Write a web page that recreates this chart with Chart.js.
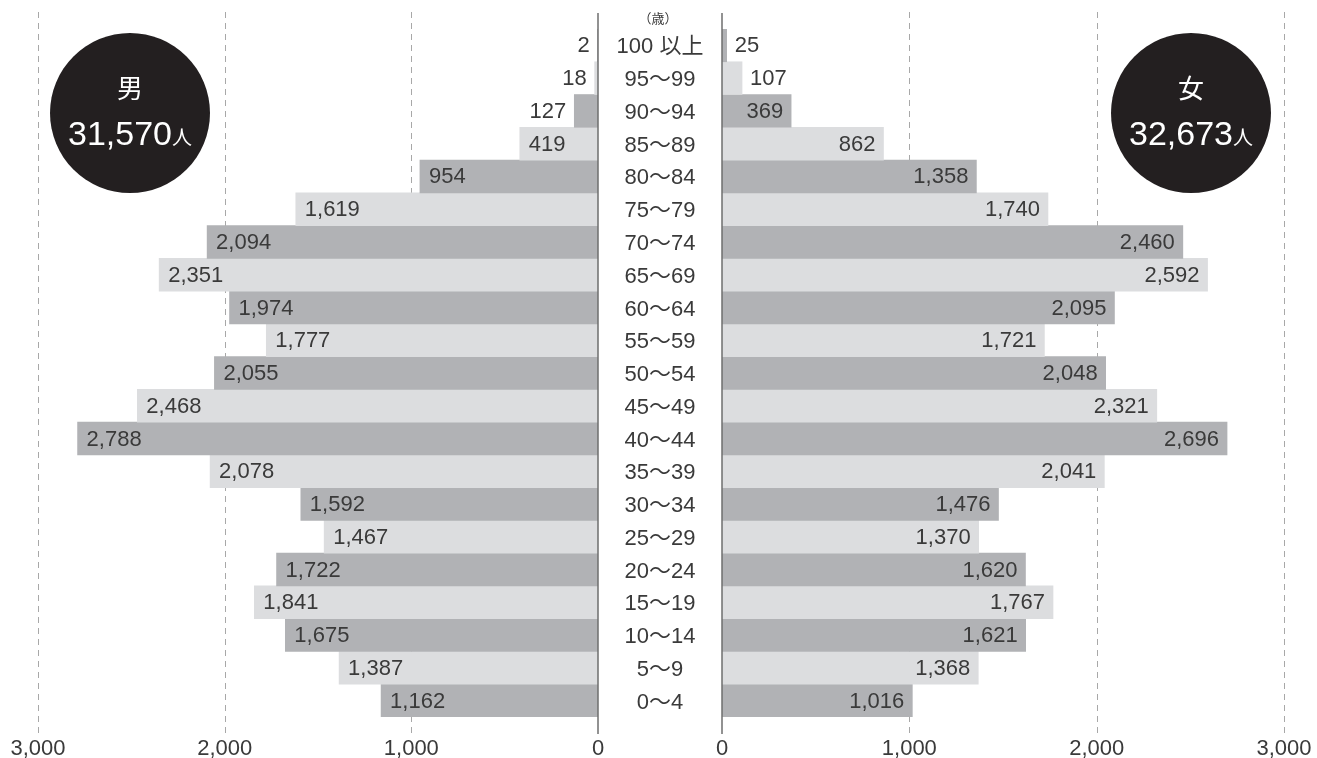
<!DOCTYPE html>
<html>
<head>
<meta charset="utf-8">
<script src="https://cdn.jsdelivr.net/npm/chart.js@4/dist/chart.umd.min.js"></script>
<style>
  body { margin: 0; background: #fff; }
  #wrap { position: relative; width: 1317px; height: 758px; overflow: hidden; }
  canvas { position: absolute; top: 0; }
  #male-chart { left: 0; }
  #female-chart { left: 598px; }
  .badge {
    position: absolute; top: 33px; width: 160px; height: 160px; border-radius: 50%;
    background: #231f20; color: #fff; text-align: center;
    font-family: "Liberation Sans", "Noto Sans CJK JP", sans-serif;
  }
  .badge .sex { margin-top: 39px; font-size: 26px; line-height: 30px; font-family: "Noto Sans CJK JP", sans-serif; }
  .badge .total { margin-top: 12px; font-size: 34px; line-height: 38px; white-space: nowrap; }
  .badge .total small { font-size: 20px; font-family: "Noto Sans CJK JP", sans-serif; }
  #badge-m { left: 50px; }
  #badge-f { left: 1111px; }
</style>
</head>
<body>
<div id="wrap">
  <canvas id="male-chart" width="722" height="758"></canvas>
  <canvas id="female-chart" width="780" height="758"></canvas>
  <div class="badge" id="badge-m"><div class="sex">男</div><div class="total"><span id="total-m"></span><small>人</small></div></div>
  <div class="badge" id="badge-f"><div class="sex">女</div><div class="total"><span id="total-f"></span><small>人</small></div></div>
</div>
<script>
// 人口ピラミッド (男・女)

const ageGroups = ['0〜4', '5〜9', '10〜14', '15〜19', '20〜24', '25〜29', '30〜34', '35〜39', '40〜44', '45〜49',
  '50〜54', '55〜59', '60〜64', '65〜69', '70〜74', '75〜79', '80〜84', '85〜89', '90〜94', '95〜99', '100 以上'];
const male = [1162, 1387, 1675, 1841, 1722, 1467, 1592, 2078, 2788, 2468,
  2055, 1777, 1974, 2351, 2094, 1619, 954, 419, 127, 18, 2];
const female = [1016, 1368, 1621, 1767, 1620, 1370, 1476, 2041, 2696, 2321,
  2048, 1721, 2095, 2592, 2460, 1740, 1358, 862, 369, 107, 25];
const xTicks = [0, 1000, 2000, 3000];

const DARK = '#b1b2b5';
const LIGHT = '#dcdddf';
const TEXT = '#3a3a3a';
const FONT = '"Liberation Sans", "Noto Sans CJK JP", sans-serif';

const fmt = v => v.toLocaleString('en-US');

document.getElementById('total-m').textContent = fmt(male.reduce((a, b) => a + b, 0));
document.getElementById('total-f').textContent = fmt(female.reduce((a, b) => a + b, 0));

// dashed grid + solid zero line
const gridPlugin = {
  id: 'gridLines',
  beforeDatasetsDraw(chart) {
    const ctx = chart.ctx;
    const x = chart.scales.x;
    ctx.save();
    ctx.strokeStyle = '#a8a8a8';
    ctx.lineWidth = 1;
    ctx.setLineDash([6, 5]);
    xTicks.slice(1).forEach(t => {
      const px = Math.round(x.getPixelForValue(t)) + 0.5;
      ctx.beginPath();
      ctx.moveTo(px, 12);
      ctx.lineTo(px, 736);
      ctx.stroke();
    });
    ctx.restore();
  },
  afterDatasetsDraw(chart) {
    const ctx = chart.ctx;
    const px = chart.scales.x.getPixelForValue(0);
    ctx.save();
    ctx.strokeStyle = '#6e6e6e';
    ctx.lineWidth = 1.5;
    ctx.beginPath();
    ctx.moveTo(px, 13);
    ctx.lineTo(px, 734);
    ctx.stroke();
    ctx.restore();
  }
};

// value labels on bars
const valuePlugin = {
  id: 'valueLabels',
  afterDatasetsDraw(chart, args, opts) {
    const ctx = chart.ctx;
    const meta = chart.getDatasetMeta(0);
    const data = chart.data.datasets[0].data;
    ctx.save();
    ctx.font = '22px ' + FONT;
    ctx.fillStyle = TEXT;
    ctx.textBaseline = 'middle';
    meta.data.forEach((bar, i) => {
      const txt = fmt(data[i]);
      const w = ctx.measureText(txt).width;
      const len = Math.abs(bar.x - bar.base);
      const inside = len > w + 16;
      if (opts.side === 'left') {
        if (inside) { ctx.textAlign = 'left'; ctx.fillText(txt, bar.x + 9, bar.y + 1); }
        else { ctx.textAlign = 'right'; ctx.fillText(txt, bar.x - 8, bar.y + 1); }
      } else {
        if (inside) { ctx.textAlign = 'right'; ctx.fillText(txt, bar.x - 8, bar.y + 1); }
        else { ctx.textAlign = 'left'; ctx.fillText(txt, bar.x + 8, bar.y + 1); }
      }
    });
    ctx.restore();
  }
};

// age labels in the middle column
const agePlugin = {
  id: 'ageLabels',
  afterDraw(chart) {
    const ctx = chart.ctx;
    const y = chart.scales.y;
    const cx = chart.chartArea.right + 62;
    ctx.save();
    ctx.fillStyle = TEXT;
    ctx.textAlign = 'center';
    ctx.textBaseline = 'middle';
    ctx.font = '13px "Noto Sans CJK JP", sans-serif';
    ctx.fillText('（歳）', cx - 2, 18);
    ctx.font = '22px ' + FONT;
    ageGroups.forEach((lab, i) => {
      ctx.fillText(lab, cx, y.getPixelForValue(i) + 2);
    });
    ctx.restore();
  }
};

function makeChart(id, values, side) {
  const left = side === 'left';
  return new Chart(document.getElementById(id), {
    type: 'bar',
    data: {
      labels: ageGroups,
      datasets: [{
        data: values,
        backgroundColor: values.map((v, i) => i % 2 === 0 ? DARK : LIGHT),
        barPercentage: 1,
        categoryPercentage: 1,
        borderWidth: 0
      }]
    },
    options: {
      indexAxis: 'y',
      responsive: false,
      animation: false,
      devicePixelRatio: 1,
      layout: { padding: left ? { left: 38, right: 124, top: 29, bottom: 0 } : { left: 124, right: 94, top: 29, bottom: 0 } },
      plugins: {
        legend: { display: false },
        tooltip: { enabled: false },
        valueLabels: { side: side }
      },
      scales: {
        x: {
          min: 0, max: 3000,
          reverse: left,
          grid: { display: false, drawTicks: false },
          border: { display: false },
          afterFit(scale) { scale.height = 41; },
          afterBuildTicks(scale) { scale.ticks = xTicks.map(v => ({ value: v })); },
          ticks: {
            padding: 19,
            maxRotation: 0,
            color: TEXT,
            font: { family: FONT, size: 22 },
            callback: v => fmt(v)
          }
        },
        y: {
          display: false,
          reverse: true
        }
      }
    },
    plugins: left ? [gridPlugin, valuePlugin, agePlugin] : [gridPlugin, valuePlugin]
  });
}

makeChart('male-chart', male, 'left');
makeChart('female-chart', female, 'right');
</script>
</body>
</html>
